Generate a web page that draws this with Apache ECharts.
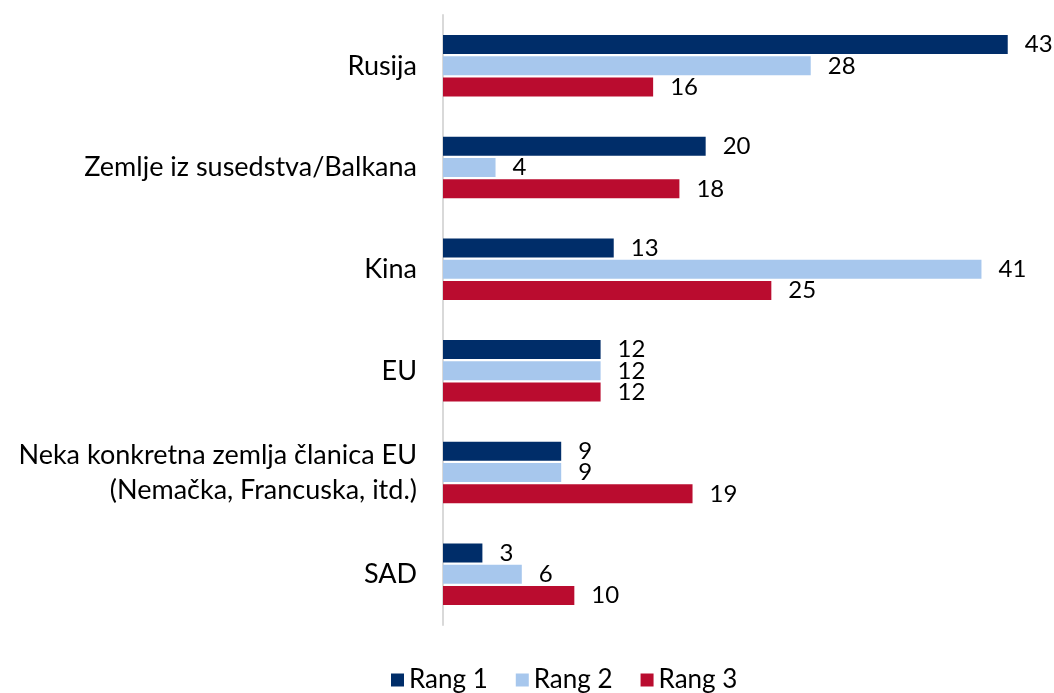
<!DOCTYPE html>
<html>
<head>
<meta charset="utf-8">
<script src="https://cdn.jsdelivr.net/npm/echarts@6/dist/echarts.min.js"></script>
<style>
  html, body { margin: 0; padding: 0; background: #fff; }
  #chart { width: 1054px; height: 693px; }
</style>
</head>
<body>
<div id="chart"></div>
<script>
const categories = [
  'Rusija',
  'Zemlje iz susedstva/Balkana',
  'Kina',
  'EU',
  'Neka konkretna zemlja članica EU\n(Nemačka, Francuska, itd.)',
  'SAD'
]
const seriesNames = ['Rang 1', 'Rang 2', 'Rang 3']
const rang1 = [43, 20, 13, 12, 9, 3]
const rang2 = [28, 4, 41, 12, 9, 6]
const rang3 = [16, 18, 25, 12, 19, 10]
const colors = ['#002D69', '#A7C7ED', '#BA0C2F']

const fontFamily = 'Lato, "Noto Sans", sans-serif'

const chart = echarts.init(document.getElementById('chart'))

function makeSeries (name, data, color) {
  return {
    name: name,
    type: 'bar',
    data: data,
    barWidth: 19,
    barGap: '12%',
    itemStyle: { color: color },
    label: {
      show: true,
      position: 'right',
      distance: 17,
      color: '#000',
      fontSize: 24,
      fontFamily: fontFamily
    }
  }
}

const option = {
  animation: false,
  color: colors,
  grid: {
    left: 443,
    right: 20,
    top: 15,
    bottom: 68
  },
  legend: {
    bottom: -5,
    left: 386,
    icon: 'rect',
    itemWidth: 13,
    itemHeight: 13,
    itemGap: 28,
    textStyle: { fontSize: 26, color: '#000', fontFamily: fontFamily },
    data: seriesNames
  },
  xAxis: {
    type: 'value',
    min: 0,
    max: 45,
    show: false
  },
  yAxis: {
    type: 'category',
    inverse: true,
    data: categories,
    axisLine: { show: true, lineStyle: { color: '#D9D9D9', width: 2 } },
    axisTick: { show: false },
    axisLabel: {
      margin: 26,
      color: '#000',
      fontSize: 27,
      lineHeight: 35,
      align: 'right',
      fontFamily: fontFamily
    }
  },
  series: [
    makeSeries(seriesNames[0], rang1, colors[0]),
    makeSeries(seriesNames[1], rang2, colors[1]),
    makeSeries(seriesNames[2], rang3, colors[2])
  ]
}
chart.setOption(option)
</script>
</body>
</html>
